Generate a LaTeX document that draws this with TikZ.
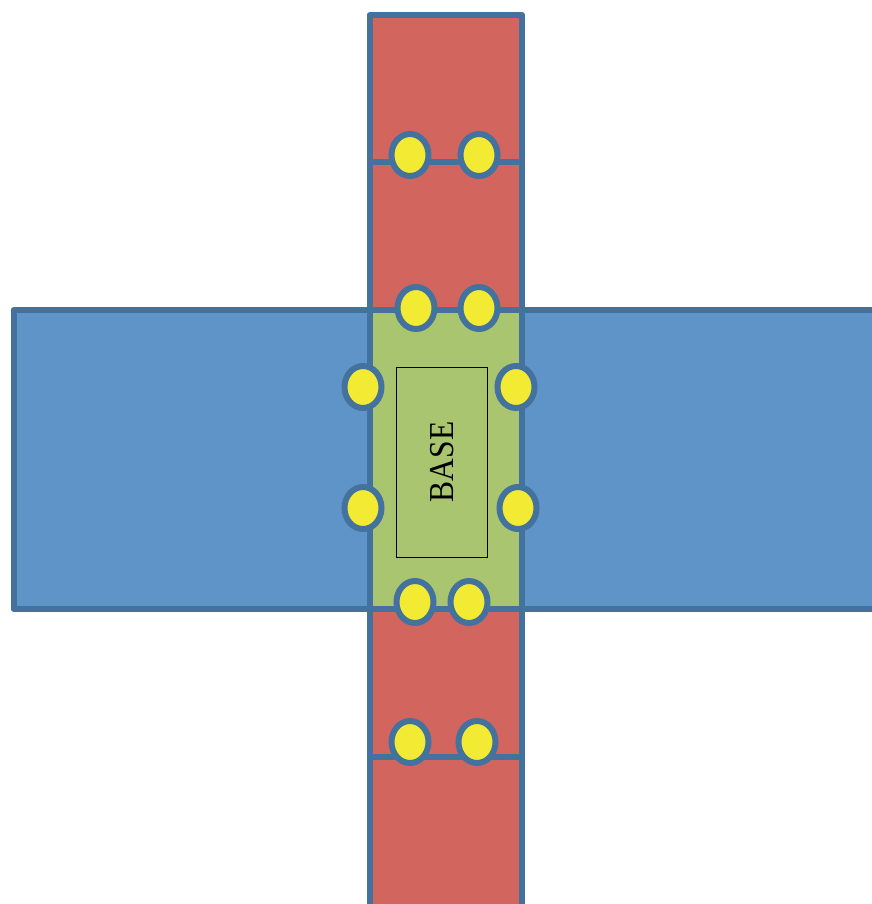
\documentclass[tikz,border=0pt]{standalone}
\usepackage{fontspec}
\setmainfont{Liberation Serif}
\usetikzlibrary{shapes.geometric}
\definecolor{edgeblue}{HTML}{44729E}
\definecolor{fillblue}{HTML}{5E94C8}
\definecolor{fillred}{HTML}{D2665F}
\definecolor{fillgreen}{HTML}{A9C56F}
\definecolor{pinyellow}{HTML}{F2EA33}
\begin{document}
\begin{tikzpicture}[x=1pt,y=-1pt,
  part/.style={draw=edgeblue,line width=6pt,line join=round},
  pin/.style={ellipse,draw=edgeblue,fill=pinyellow,line width=6pt,minimum width=37pt,minimum height=42pt,inner sep=0pt},
  basebox/.style={draw=black,line width=1pt,fill=fillgreen,minimum width=91pt,minimum height=190pt,inner sep=0pt}]
\useasboundingbox (0,0) rectangle (871,904);
% vertical arms
\filldraw[part,fill=fillred] (369.5,15) rectangle (522,310);
\filldraw[part,fill=fillred] (369.5,608) rectangle (522,930);
% horizontal band
\filldraw[part,fill=fillblue] (13.5,310) rectangle (900,609);
% base
\filldraw[part,fill=fillgreen] (369.5,310) rectangle (522,609);
% cross lines
\draw[part] (369.5,162) -- (522,162);
\draw[part] (369.5,757) -- (522,757);
% base label
\node[basebox] (base) at (442,462) {};
\node[rotate=90,inner sep=0pt] (baselabel) at (442.5,462) {\fontsize{35}{35}\selectfont\scalebox{0.9}[1]{BASE}};
% pins
\node[pin] (p1) at (410,155) {};
\node[pin] (p2) at (479,155) {};
\node[pin] (p3) at (416,308) {};
\node[pin] (p4) at (479,308) {};
\node[pin] (p5) at (363,387) {};
\node[pin] (p6) at (516,387) {};
\node[pin] (p7) at (363,508) {};
\node[pin] (p8) at (518,508) {};
\node[pin] (p9) at (415,602) {};
\node[pin] (p10) at (469,602) {};
\node[pin] (p11) at (410,742) {};
\node[pin] (p12) at (477,742) {};
\end{tikzpicture}
\end{document}
